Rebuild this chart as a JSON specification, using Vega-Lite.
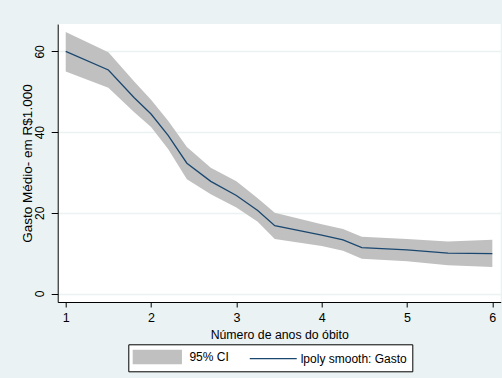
{
  "$schema": "https://vega.github.io/schema/vega-lite/v6.json",
  "width": 443,
  "height": 278,
  "autosize": {"type": "none"},
  "padding": {"left": 57.7, "top": 24, "right": 1.3, "bottom": 76},
  "background": "#EAF2F3",
  "config": {
    "view": {"fill": "white", "stroke": null},
    "font": "Liberation Sans",
    "axis": {
      "domainColor": "black",
      "domainWidth": 1,
      "tickColor": "black",
      "tickWidth": 1,
      "labelColor": "black",
      "titleColor": "black",
      "labelFont": "Liberation Sans",
      "titleFont": "Liberation Sans",
      "titleFontWeight": "normal"
    }
  },
  "data": {
    "values": [
      {"x": 1.0, "y": 60.0, "lo": 55.0, "hi": 64.8},
      {"x": 1.5, "y": 55.4, "lo": 51.0, "hi": 59.8},
      {"x": 1.8, "y": 48.6, "lo": 45.0, "hi": 52.6},
      {"x": 2.0, "y": 44.5, "lo": 41.3, "hi": 48.0},
      {"x": 2.2, "y": 39.2, "lo": 35.8, "hi": 42.8},
      {"x": 2.42, "y": 32.3, "lo": 28.3, "hi": 36.3},
      {"x": 2.7, "y": 27.8, "lo": 24.6, "hi": 31.2},
      {"x": 3.0, "y": 24.3, "lo": 21.3, "hi": 27.8},
      {"x": 3.25, "y": 20.6, "lo": 17.8, "hi": 23.6},
      {"x": 3.45, "y": 16.8, "lo": 13.5, "hi": 20.0},
      {"x": 4.0, "y": 14.5, "lo": 11.8, "hi": 17.2},
      {"x": 4.25, "y": 13.3, "lo": 10.6, "hi": 16.0},
      {"x": 4.47, "y": 11.4, "lo": 8.6, "hi": 14.1},
      {"x": 5.0, "y": 10.8, "lo": 8.0, "hi": 13.5},
      {"x": 5.48, "y": 10.0, "lo": 7.0, "hi": 12.9},
      {"x": 6.0, "y": 9.9, "lo": 6.6, "hi": 13.3}
    ]
  },
  "layer": [
    {
      "mark": {"type": "area", "opacity": 1},
      "encoding": {
        "x": {
          "field": "x", "type": "quantitative",
          "scale": {"domain": [0.906, 6.098], "nice": false, "zero": false},
          "axis": {
            "title": "Número de anos do óbito",
            "values": [1, 2, 3, 4, 5, 6],
            "format": "d",
            "grid": false,
            "tickSize": 5,
            "labelFontSize": 12.5,
            "labelPadding": 4,
            "titleFontSize": 12.3,
            "titlePadding": 5
          }
        },
        "y": {
          "field": "lo", "type": "quantitative",
          "scale": {"domain": [-2.1, 66.8], "nice": false, "zero": false},
          "axis": {
            "title": "Gasto Médio- em R$1.000",
            "values": [0, 20, 40, 60],
            "grid": true,
            "gridColor": "#EAF2F3",
            "gridWidth": 1.6,
            "tickSize": 6.5,
            "labelAngle": -90,
            "labelAlign": "center",
            "labelBaseline": "alphabetic",
            "labelFontSize": 12,
            "labelPadding": 8,
            "titleFontSize": 13.5,
            "titlePadding": -1
          }
        },
        "y2": {"field": "hi"},
        "color": {
          "datum": "95% CI",
          "type": "nominal",
          "scale": {"domain": ["95% CI", "lpoly smooth: Gasto"], "range": ["#C0C0C0", "#1A476F"]}
        }
      }
    },
    {
      "mark": {"type": "line", "strokeWidth": 1.3},
      "encoding": {
        "x": {"field": "x", "type": "quantitative"},
        "y": {"field": "y", "type": "quantitative"},
        "color": {
          "datum": "lpoly smooth: Gasto",
          "type": "nominal",
          "legend": {
            "title": null,
            "orient": "none",
            "legendX": 70.6,
            "legendY": 320.3,
            "direction": "horizontal",
            "strokeColor": "black",
            "fillColor": "white",
            "padding": 5,
            "labelFontSize": 12,
            "labelColor": "black",
            "labelFont": "Liberation Sans",
            "symbolSize": 169,
            "symbolStrokeWidth": 1.3,
            "symbolOffset": 16.5,
            "labelOffset": 24.6,
            "columnPadding": 15.3,
            "symbolType": "M-3.69,-1H3.69V1H-3.69Z",
            "encode": {
              "symbols": {
                "update": {
                  "shape": {"signal": "datum.value === '95% CI' ? 'M-3.69,-1H3.69V1H-3.69Z' : 'M-2.9,0H4.33'"},
                  "fill": {"signal": "datum.value === '95% CI' ? '#C0C0C0' : 'transparent'"},
                  "stroke": {"signal": "datum.value === '95% CI' ? 'transparent' : '#1A476F'"},
                  "strokeWidth": {"value": 1.3},
                  "opacity": {"value": 1}
                }
              }
            }
          }
        }
      }
    }
  ]
}
